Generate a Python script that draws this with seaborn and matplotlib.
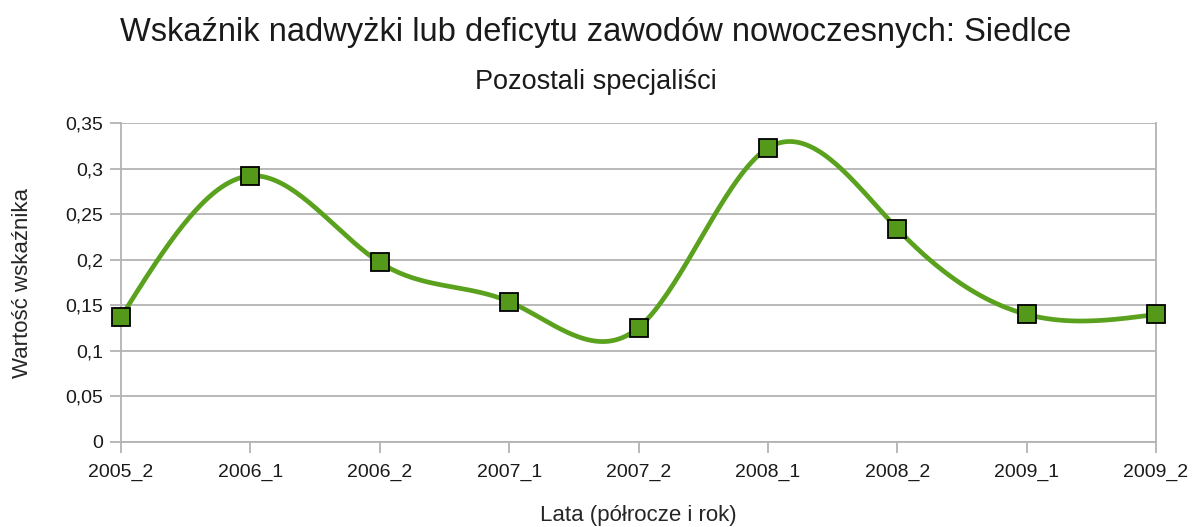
import numpy as np
import pandas as pd
import matplotlib
matplotlib.use('Agg')
import matplotlib.pyplot as plt
import seaborn as sns

# data
periods = ['2005_2', '2006_1', '2006_2', '2007_1', '2007_2',
           '2008_1', '2008_2', '2009_1', '2009_2']
values = [0.137, 0.292, 0.197, 0.154, 0.1255, 0.3225, 0.234, 0.14, 0.14]
y_ticks = [0, 0.05, 0.1, 0.15, 0.2, 0.25, 0.3, 0.35]

title = 'Wskaźnik nadwyżki lub deficytu zawodów nowoczesnych: Siedlce'
subtitle = 'Pozostali specjaliści'

df = pd.DataFrame({'pos': np.arange(len(periods)), 'value': values})


def natural_spline(x, y, n=40):
    # natural cubic spline, only used to draw the smoothed line
    x = np.asarray(x, float)
    y = np.asarray(y, float)
    k = len(x)
    h = np.diff(x)
    A = np.zeros((k, k))
    b = np.zeros(k)
    A[0, 0] = A[-1, -1] = 1
    for i in range(1, k - 1):
        A[i, i - 1] = h[i - 1]
        A[i, i] = 2 * (h[i - 1] + h[i])
        A[i, i + 1] = h[i]
        b[i] = 3 * ((y[i + 1] - y[i]) / h[i] - (y[i] - y[i - 1]) / h[i - 1])
    c = np.linalg.solve(A, b)
    xs, ys = [], []
    for i in range(k - 1):
        bi = (y[i + 1] - y[i]) / h[i] - h[i] * (2 * c[i] + c[i + 1]) / 3
        di = (c[i + 1] - c[i]) / (3 * h[i])
        t = np.linspace(0, h[i], n, endpoint=(i == k - 2))
        xs.append(x[i] + t)
        ys.append(y[i] + bi * t + c[i] * t ** 2 + di * t ** 3)
    return np.concatenate(xs), np.concatenate(ys)


sx, sy = natural_spline(df['pos'], df['value'])
smooth = pd.DataFrame({'pos': sx, 'value': sy})

sns.set_style('white')
plt.rcParams['font.family'] = ['Liberation Sans', 'DejaVu Sans']

fig = plt.figure(figsize=(11.92, 5.27), dpi=100)
ax = fig.add_axes([121 / 1192, 1 - 442 / 527, (1156 - 121) / 1192, (442 - 123) / 527])

sns.lineplot(data=smooth, x='pos', y='value', ax=ax, color='#5aa21e',
             linewidth=3.4, sort=False, zorder=3)
ax.plot(df['pos'], df['value'], linestyle='none', marker='s', markersize=13.5,
        markerfacecolor='#54991a', markeredgecolor='black', markeredgewidth=1.3,
        zorder=4, clip_on=False)

ax.set_xlim(0, len(periods) - 1)
ax.set_ylim(0, 0.35)
ax.set_xticks(range(len(periods)))
ax.set_xticklabels(periods, fontsize=14)
ax.set_yticks(y_ticks)
ax.set_yticklabels([f'{v:g}'.replace('.', ',') for v in y_ticks], fontsize=14)
ax.yaxis.grid(True, color='#b3b3b3', linewidth=1.3)
ax.xaxis.grid(False)
for s in ax.spines.values():
    s.set_color('#b3b3b3')
    s.set_linewidth(1.3)
ax.spines['top'].set_visible(False)
ax.tick_params(axis='both', which='both', length=8, width=1.3, color='#b3b3b3',
               labelcolor='#1a1a1a', pad=5)
ax.tick_params(axis='x', bottom=True, pad=8)
ax.tick_params(axis='y', left=True)

ax.set_xlabel('Lata (półrocze i rok)', fontsize=16)
ax.set_ylabel('Wartość wskaźnika', fontsize=16)
ax.xaxis.set_label_coords(0.5, -(515 - 442) / (442 - 123), transform=ax.transAxes)
ax.yaxis.set_label_coords(-(121 - 22) / (1156 - 121), 0.5, transform=ax.transAxes)
ax.xaxis.label.set_va('center')
ax.yaxis.label.set_va('center')

fig.text(0.5, 1 - 33 / 527, title, ha='center', va='center', fontsize=23.5, color='#1a1a1a')
fig.text(0.5, 1 - 82 / 527, subtitle, ha='center', va='center', fontsize=19.5, color='#1a1a1a')

fig.savefig('out.png', dpi=100)
